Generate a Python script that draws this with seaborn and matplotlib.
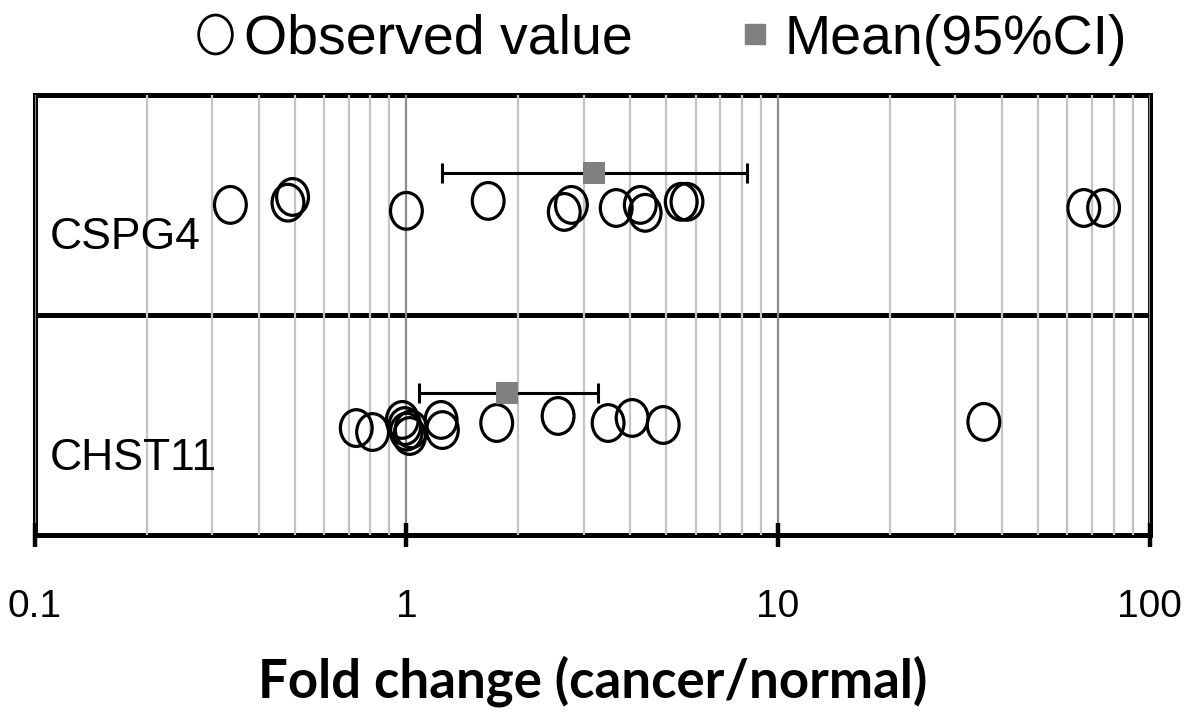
#Read Packages
import numpy as np
import pandas as pd
import matplotlib.pyplot as plt
import seaborn as sns
from matplotlib.path import Path
from matplotlib.lines import Line2D
from matplotlib.ticker import LogLocator, NullFormatter, FixedLocator, FixedFormatter
import matplotlib.transforms as mtransforms

#Data
genes = ["CSPG4", "CHST11"]
cspg4_fold = [0.336, 0.48, 0.494, 1.0, 1.66, 2.66, 2.78, 3.67, 4.26, 4.39, 5.49, 5.69, 66.5, 75.2]
cspg4_jitter = [0.0, -0.01, -0.036, 0.027, -0.018, 0.032, 0.0, 0.014, 0.0, 0.036, -0.014, -0.014, 0.014, 0.014]
chst11_fold = [0.733, 0.811, 0.975, 0.99, 1.0, 1.02, 1.03, 1.24, 1.25, 1.75, 2.56, 3.49, 4.05, 4.91, 35.8]
chst11_jitter = [0.014, 0.032, -0.023, 0.005, 0.03, 0.05, 0.02, -0.023, 0.023, -0.009, -0.041, -0.009, -0.032, 0.0, -0.014]
mean_fold = [3.2, 1.86]
ci_low = [1.25, 1.08]
ci_high = [8.26, 3.28]
mean_offset = -0.145
xticks = [0.1, 1, 10, 100]
xtick_labels = ["0.1", "1", "10", "100"]

#Long table: one row per observation, row index gives the y position
obs = pd.DataFrame({
    "gene": ["CSPG4"] * len(cspg4_fold) + ["CHST11"] * len(chst11_fold),
    "fold": cspg4_fold + chst11_fold,
    "jitter": cspg4_jitter + chst11_jitter,
})
obs["ypos"] = obs["gene"].map({g: i for i, g in enumerate(genes)}) + obs["jitter"]
means = pd.DataFrame({"gene": genes, "mean": mean_fold, "lo": ci_low, "hi": ci_high})
means["ypos"] = np.arange(len(genes)) + mean_offset

sns.set_theme(style="white")
plt.rcParams['font.family'] = ['Liberation Sans', 'DejaVu Sans']
plt.rcParams['text.color'] = 'black'
plt.rcParams['axes.labelcolor'] = 'black'
plt.rcParams['xtick.color'] = 'black'

#slightly tall open ellipse, like the stretched circles in the figure
circ = Path.unit_circle()
ell = Path(circ.vertices * np.array([0.865, 1.0]), circ.codes)

fig = plt.figure(figsize=(12, 7.24), dpi=100)
ax = fig.add_axes([0.029, 0.261, 0.929, 0.608])

ax.axhline(0.5, color="black", lw=3.6, zorder=1)
sns.scatterplot(data=obs, x="fold", y="ypos", ax=ax, marker=ell, s=700,
                facecolor="none", edgecolor="black", linewidth=2.3, zorder=4, legend=False)
ax.errorbar(means["mean"], means["ypos"],
            xerr=[means["mean"] - means["lo"], means["hi"] - means["mean"]],
            fmt="none", ecolor="black", elinewidth=2.2, capsize=7, capthick=2.2, zorder=5)
sns.scatterplot(data=means, x="mean", y="ypos", ax=ax, marker="s", s=270,
                color="#808080", edgecolor="#808080", linewidth=0, zorder=6, legend=False)

ax.set_xscale("log")
ax.set_xlim(0.1, 100)
ax.set_ylim(1.5, -0.5)
ax.set_yticks([])
ax.xaxis.set_major_locator(FixedLocator(xticks))
ax.xaxis.set_major_formatter(FixedFormatter(xtick_labels))
ax.xaxis.set_minor_locator(LogLocator(base=10, subs=np.arange(2, 10)))
ax.xaxis.set_minor_formatter(NullFormatter())
ax.grid(which="minor", axis="x", color="#c4c4c4", lw=1.6, zorder=2)
ax.grid(which="major", axis="x", color="#8a8a8a", lw=1.6, zorder=2)
ax.set_axisbelow(False)
ax.tick_params(axis="x", which="major", bottom=True, direction="inout", length=17, width=3.2,
               color="black", pad=30, labelsize=28, labelcolor="black")
ax.tick_params(axis="x", which="minor", length=0)
for s in ax.spines.values():
    s.set_color("black")
    s.set_linewidth(3.6)
ax.set_xlabel("Fold change (cancer/normal)", fontsize=38, fontweight="bold",
              family="Lato", labelpad=22, color="black")
ax.set_ylabel("")

#gene names sit inside the panel
trans = mtransforms.blended_transform_factory(ax.transAxes, ax.transData)
for i, g in enumerate(genes):
    ax.text(0.0135, i + 0.15, g, transform=trans, ha="left", va="center", fontsize=32,
            color="black", zorder=7)

handles = [Line2D([], [], ls="none", marker=ell, ms=28, mfc="none", mec="black", mew=2),
           Line2D([], [], ls="none", marker="s", ms=15, mfc="#808080", mec="#808080")]
fig.legend(handles, ["Observed value", "Mean(95%CI)"], loc="center", bbox_to_anchor=(0.55, 0.945),
           ncol=2, frameon=False, fontsize=40, handletextpad=0.12, columnspacing=1.8,
           handlelength=0.8, labelcolor="black")

plt.savefig("out.png", dpi=100)
